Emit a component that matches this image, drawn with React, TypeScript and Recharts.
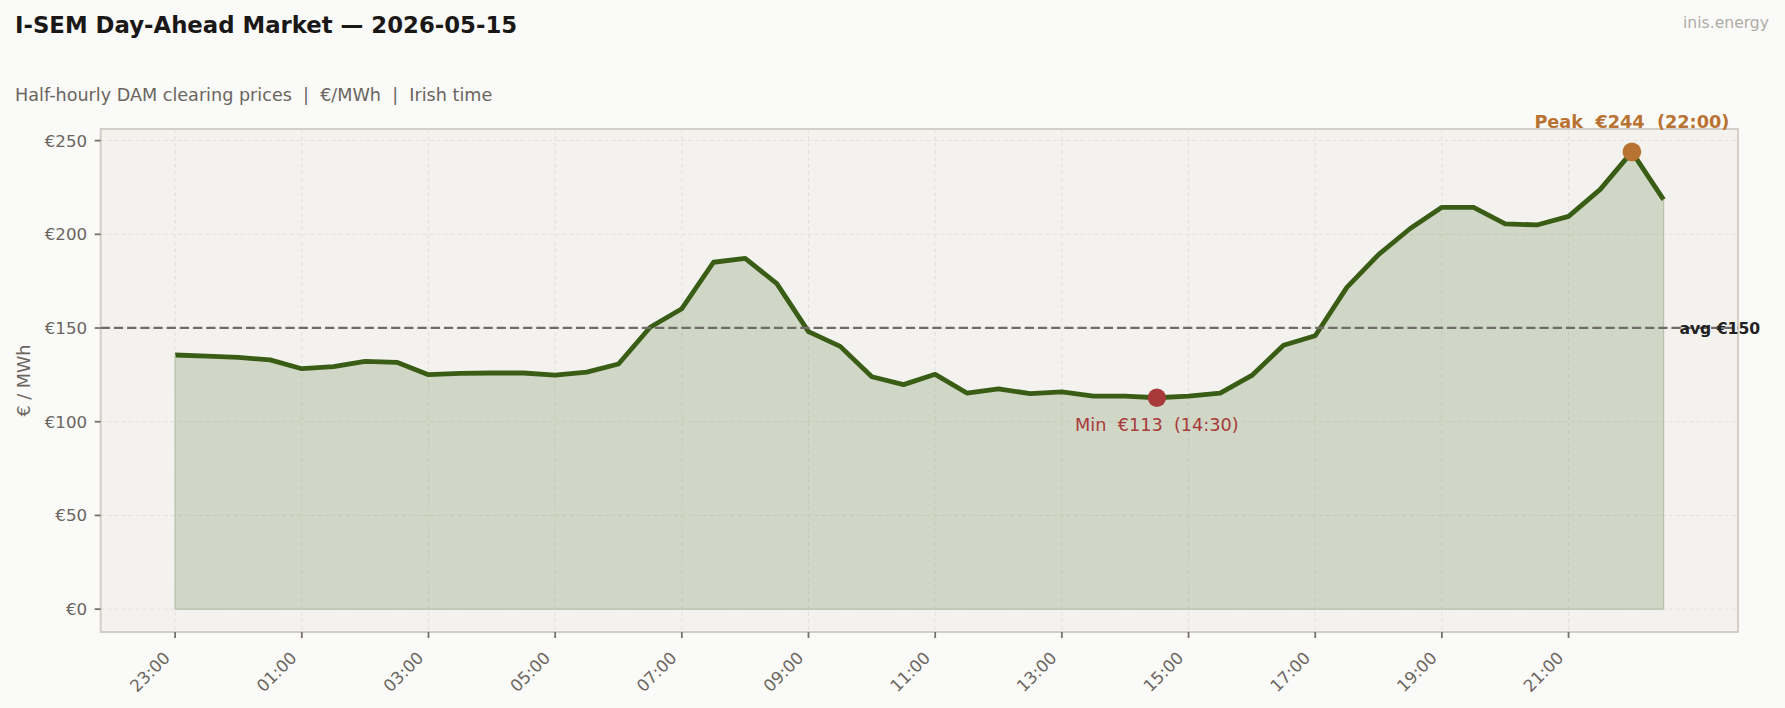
import React from 'react';
import {
  ComposedChart,
  Area,
  XAxis,
  YAxis,
  CartesianGrid,
  ReferenceLine,
  ReferenceDot,
  ReferenceArea,
} from 'recharts';

// half-hourly slots, Irish time (day-ahead delivery starts 23:00)
const slots = [
  '23:00', '23:30', '00:00', '00:30', '01:00', '01:30', '02:00', '02:30',
  '03:00', '03:30', '04:00', '04:30', '05:00', '05:30', '06:00', '06:30',
  '07:00', '07:30', '08:00', '08:30', '09:00', '09:30', '10:00', '10:30',
  '11:00', '11:30', '12:00', '12:30', '13:00', '13:30', '14:00', '14:30',
  '15:00', '15:30', '16:00', '16:30', '17:00', '17:30', '18:00', '18:30',
  '19:00', '19:30', '20:00', '20:30', '21:00', '21:30', '22:00', '22:30',
];

// DAM clearing price, €/MWh
const prices = [
  135.6, 135.0, 134.3, 133.0, 128.3, 129.4, 132.2, 131.7,
  125.1, 125.8, 126.0, 126.0, 124.9, 126.5, 130.8, 150.4,
  160.3, 185.1, 187.2, 173.7, 148.1, 140.2, 124.0, 119.8,
  125.3, 115.3, 117.5, 115.0, 115.9, 113.7, 113.7, 112.8,
  113.7, 115.3, 124.7, 140.8, 145.9, 171.7, 189.2, 203.1,
  214.4, 214.4, 205.6, 205.0, 209.6, 224.0, 244.0, 218.5,
];

const xTickLabels = ['23:00', '01:00', '03:00', '05:00', '07:00', '09:00', '11:00', '13:00', '15:00', '17:00', '19:00', '21:00'];
const yTicks = [0, 50, 100, 150, 200, 250];

const FONT = '"DejaVu Sans", sans-serif';
const LINE = '#3a5d16';
const MUTED = '#6b6560';
const PEAK = '#b87333';
const LOW = '#a83a3a';

const data = prices.map((p, i) => ({ i, price: p }));

const peak = Math.max(...prices);
const peakIdx = prices.indexOf(peak);
const low = Math.min(...prices);
const lowIdx = prices.indexOf(low);
const avg = prices.reduce((s, v) => s + v, 0) / prices.length;

// matplotlib-style 5% margins
const xPad = (prices.length - 1) * 0.05;
const xDomain = [-xPad, prices.length - 1 + xPad];
const yPad = peak * 0.05;
const yDomain = [-yPad, peak + yPad];

const xTickIdx = xTickLabels.map(t => slots.indexOf(t));

const XTick = ({ x, y, payload }: any) => {
  const ax = x - 4;
  const ay = y + 21;
  return (
    <text
      x={ax}
      y={ay}
      transform={`rotate(-45, ${ax}, ${ay})`}
      textAnchor="end"
      fill={MUTED}
      fontSize={16.7}
      fontFamily={FONT}
    >
      {slots[payload.value]}
    </text>
  );
};

const App = () => {
  return (
    <div style={{ position: 'relative', width: 1785, height: 708, background: '#fafaf8' }}>
      <style>{'body{margin:0}'}</style>
      <ComposedChart
        width={1785}
        height={708}
        data={data}
        margin={{ top: 129, right: 47, bottom: 0, left: 0 }}
      >
        <CartesianGrid
          stroke="#e4e1db"
          strokeDasharray="4 3"
          fill="#f3f2ef"
          fillOpacity={1}
        />
        <XAxis
          dataKey="i"
          type="number"
          domain={xDomain}
          ticks={xTickIdx}
          interval={0}
          allowDataOverflow
          height={76}
          axisLine={false}
          tickLine={{ stroke: '#77726c', strokeWidth: 1.8 }}
          tickSize={6}
          tickMargin={0}
          tick={<XTick />}
        />
        <YAxis
          type="number"
          domain={yDomain}
          ticks={yTicks}
          interval={0}
          allowDataOverflow
          width={100.7}
          axisLine={false}
          tickLine={{ stroke: '#77726c', strokeWidth: 1.8 }}
          tickSize={6}
          tickMargin={7.5}
          tickFormatter={(v: number) => `€${v}`}
          tick={{ fill: MUTED, fontSize: 16.7, fontFamily: FONT }}
        />
        <Area
          dataKey="price"
          type="linear"
          baseValue={0}
          stroke={LINE}
          strokeWidth={4.8}
          strokeLinejoin="round"
          fill="#4a6e22"
          fillOpacity={0.2}
          isAnimationActive={false}
          dot={false}
          activeDot={false}
        />
        <ReferenceLine segment={[{ x: 0, y: 0 }, { x: 0, y: prices[0] }]} stroke="#b6c1a8" strokeWidth={1.2} />
        <ReferenceLine segment={[{ x: prices.length - 1, y: 0 }, { x: prices.length - 1, y: prices[prices.length - 1] }]} stroke="#b6c1a8" strokeWidth={1.2} />
        <ReferenceLine segment={[{ x: 0, y: 0 }, { x: prices.length - 1, y: 0 }]} stroke="#b6c1a8" strokeWidth={1.2} />
        <ReferenceLine y={avg} stroke="#6f6c68" strokeWidth={2.2} strokeDasharray="9.2 4" />
        <ReferenceArea
          x1={xDomain[0]}
          x2={xDomain[1]}
          y1={yDomain[0]}
          y2={yDomain[1]}
          fill="none"
          fillOpacity={0}
          stroke="#d3cfc8"
          strokeWidth={2}
        />
        <ReferenceDot
          x={prices.length - 0.5}
          y={avg}
          r={0}
          shape={(p: any) => (
            <text x={p.cx} y={p.cy} dy="0.36em" fill="#222" fontSize={15.6} fontWeight="bold" fontFamily={FONT}>
              {`avg €${Math.round(avg)}`}
            </text>
          )}
        />
        <ReferenceDot
          x={lowIdx}
          y={low}
          r={9}
          shape={(p: any) => (
            <g>
              <circle cx={p.cx} cy={p.cy} r={9.2} fill={LOW} />
              <text
                x={p.cx}
                y={p.cy + 33}
                textAnchor="middle"
                fill={LOW}
                fontSize={17.7}
                fontFamily={FONT}
                style={{ whiteSpace: 'pre' }}
              >
                {`Min  €${Math.round(low)}  (${slots[lowIdx]})`}
              </text>
            </g>
          )}
        />
        <ReferenceDot
          x={peakIdx}
          y={peak}
          r={9}
          shape={(p: any) => (
            <g>
              <circle cx={p.cx} cy={p.cy} r={9.4} fill={PEAK} />
              <text
                x={p.cx}
                y={p.cy - 23.5}
                textAnchor="middle"
                fill={PEAK}
                fontSize={17.7}
                fontWeight="bold"
                fontFamily={FONT}
                style={{ whiteSpace: 'pre' }}
              >
                {`Peak  €${Math.round(peak)}  (${slots[peakIdx]})`}
              </text>
            </g>
          )}
        />
      </ComposedChart>
      <svg
        width={1785}
        height={708}
        style={{ position: 'absolute', left: 0, top: 0, pointerEvents: 'none' }}
      >
        <text x={15} y={33} fontSize={22.8} fontWeight="bold" fill="#1a1817" fontFamily={FONT}>
          I-SEM Day-Ahead Market — 2026-05-15
        </text>
        <text x={15} y={101} fontSize={17.6} fill={MUTED} fontFamily={FONT} style={{ whiteSpace: 'pre' }}>
          {'Half-hourly DAM clearing prices  |  €/MWh  |  Irish time'}
        </text>
        <text x={1769} y={28} textAnchor="end" fontSize={15.6} fill="#b0aca6" fontFamily={FONT}>
          inis.energy
        </text>
        <text
          x={30}
          y={380.5}
          transform="rotate(-90, 30, 380.5)"
          textAnchor="middle"
          fontSize={17.6}
          fill={MUTED}
          fontFamily={FONT}
        >
          € / MWh
        </text>
      </svg>
    </div>
  );
};

export default App;
